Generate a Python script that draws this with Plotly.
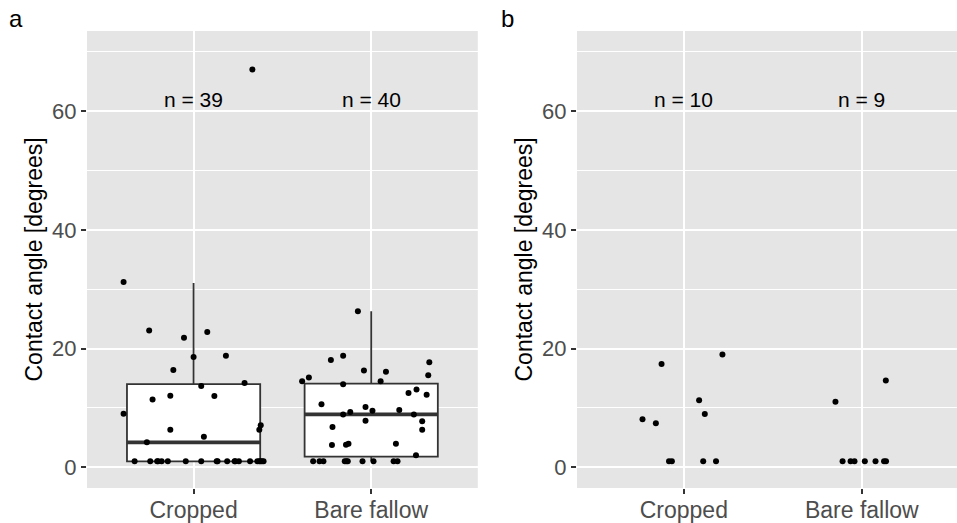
import plotly.graph_objects as go

categories = ["Cropped", "Bare fallow"]

# Panel a: jittered points (x = category index + jitter)
a_crop_x = [-0.394, -0.25, -0.054, 0.077, 0.0, 0.182, -0.114, 0.287, 0.043, -0.231,
            -0.131, 0.117, -0.394, -0.131, 0.058, 0.378, 0.370, -0.263, 0.331,
            -0.332, -0.244, -0.205, -0.180, -0.145, -0.044, 0.043, 0.135, 0.189, 0.231,
            0.255, 0.318, 0.359, 0.377, 0.394, -0.20, 0.13, 0.235, 0.37, 0.385]
a_crop_y = [31.2, 23.05, 21.8, 22.8, 18.56, 18.8, 16.4, 14.2, 13.7, 11.4,
            12.05, 12.0, 9.0, 6.33, 5.15, 7.06, 6.33, 4.2, 67.0,
            1, 1, 1, 1, 1, 1, 1, 1, 1, 1,
            1, 1, 1, 1, 1, 1, 1, 1, 1, 1]

a_bare_dx = [-0.075, -0.227, -0.158, 0.327, -0.041, 0.083, 0.321, -0.389, -0.351, -0.158,
             0.053, 0.21, 0.255, 0.312, -0.28, -0.158, -0.118, -0.032, 0.007, 0.158,
             0.24, -0.032, 0.287, 0.287, -0.218, -0.221, -0.142, -0.128, 0.139, 0.252,
             -0.327, -0.291, -0.269, -0.149, -0.132, -0.049, 0.013, 0.126, 0.148, -0.14]
a_bare_y = [26.3, 18.05, 18.8, 17.7, 16.3, 16.1, 15.5, 14.5, 15.1, 13.97,
            14.5, 12.5, 13.1, 12.2, 10.6, 8.9, 9.3, 10.15, 9.5, 9.64,
            8.9, 7.85, 7.74, 6.33, 6.78, 3.75, 3.8, 3.97, 3.97, 2.02,
            1, 1, 1, 1, 1, 1, 1, 1, 1, 1]

# Panel a box statistics
box_q1 = [1.0, 1.78]
box_median = [4.2, 8.92]
box_q3 = [14.0, 14.07]
box_low = [1.0, 1.0]
box_high = [31.06, 26.3]

# Panel b: jittered points
b_crop_dx = [0.217, -0.125, 0.086, 0.118, -0.232, -0.157, -0.083, -0.067, 0.109, 0.181]
b_crop_y = [19.0, 17.4, 11.3, 8.97, 8.1, 7.4, 1, 1, 1, 1]
b_bare_dx = [0.135, -0.148, -0.108, -0.063, -0.041, 0.017, 0.077, 0.125, 0.136]
b_bare_y = [14.6, 11.04, 1, 1, 1, 1, 1, 1, 1]

n_a = ["n = 39", "n = 40"]
n_b = ["n = 10", "n = 9"]
n_label_y = 62

ytick_vals = [0, 20, 40, 60]

W, H = 957, 523
ML, MR, MT, MB = 87, 0, 31, 35
PW = W - ML - MR
PH = H - MT - MB

def px_x(p):
    return (p - ML) / PW

def px_y(p):
    return 1 - (p - MT) / PH

BOXW = 0.75
DARK = "#333333"

fig = go.Figure()

fig.add_trace(go.Box(
    x=[0, 1], q1=box_q1, median=box_median, q3=box_q3,
    lowerfence=box_low, upperfence=box_high,
    width=BOXW, whiskerwidth=0, boxpoints=False,
    fillcolor="white", line=dict(color=DARK, width=1.8),
    xaxis="x", yaxis="y", showlegend=False, hoverinfo="skip"))

# thicker median lines
for i, m in enumerate(box_median):
    fig.add_trace(go.Scatter(
        x=[i - BOXW / 2, i + BOXW / 2], y=[m, m], mode="lines",
        line=dict(color=DARK, width=3.8), xaxis="x", yaxis="y",
        showlegend=False, hoverinfo="skip"))

mk = dict(color="black", size=6)
fig.add_trace(go.Scatter(x=a_crop_x, y=a_crop_y, mode="markers", marker=mk,
                         xaxis="x", yaxis="y", showlegend=False))
fig.add_trace(go.Scatter(x=[1 + d for d in a_bare_dx], y=a_bare_y, mode="markers", marker=mk,
                         xaxis="x", yaxis="y", showlegend=False))
fig.add_trace(go.Scatter(x=[0 + d for d in b_crop_dx], y=b_crop_y, mode="markers", marker=mk,
                         xaxis="x2", yaxis="y2", showlegend=False))
fig.add_trace(go.Scatter(x=[1 + d for d in b_bare_dx], y=b_bare_y, mode="markers", marker=mk,
                         xaxis="x2", yaxis="y2", showlegend=False))

# n labels
for i, t in enumerate(n_a):
    fig.add_annotation(x=i, y=n_label_y, xref="x", yref="y", text=t, showarrow=False,
                       font=dict(size=21, color="black"), xanchor="center", yanchor="middle")
for i, t in enumerate(n_b):
    fig.add_annotation(x=i, y=n_label_y, xref="x2", yref="y2", text=t, showarrow=False,
                       font=dict(size=21, color="black"), xanchor="center", yanchor="middle")

# y titles
for xp in [33, 523]:
    fig.add_annotation(x=px_x(xp), y=0.5, xref="paper", yref="paper",
                       text="Contact angle [degrees]", textangle=-90, showarrow=False,
                       font=dict(size=23, color="black"), xanchor="center", yanchor="middle")

# panel tags
for t, xp in [("a", 16), ("b", 507)]:
    fig.add_annotation(x=px_x(xp), y=px_y(19), xref="paper", yref="paper",
                       text=t, showarrow=False, font=dict(size=24, color="black"),
                       xanchor="center", yanchor="middle")

xa_common = dict(
    tickvals=[0, 1], ticktext=categories, showgrid=True, gridcolor="white", gridwidth=2,
    ticks="outside", ticklen=5, tickwidth=1.5, tickcolor=DARK,
    tickfont=dict(size=23, color="#4D4D4D"), zeroline=False, showline=False,
    automargin=False, ticklabelstandoff=-4,
)
ya_common = dict(
    range=[-3.5, 73.5], tickvals=ytick_vals, showgrid=True, gridcolor="white", gridwidth=2,
    minor=dict(tickvals=[10, 30, 50, 70], showgrid=True, gridcolor="white", gridwidth=1.1, ticks=""),
    ticks="outside", ticklen=5, tickwidth=1.5, tickcolor=DARK,
    tickfont=dict(size=22, color="#4D4D4D"), zeroline=False, showline=False,
    automargin=False,
)

dom_a = [0, px_x(477.8)]
dom_b = [px_x(577), 1]
range_b_right = -0.6 + (W - 577) / 178.0

fig.update_layout(
    width=W, height=H,
    margin=dict(l=ML, r=MR, t=MT, b=MB, autoexpand=False),
    paper_bgcolor="white", plot_bgcolor="#E5E5E5",
    font=dict(family="Liberation Sans, Arial, sans-serif"),
    xaxis=dict(domain=dom_a, range=[-0.6, 1.6], anchor="y", **xa_common),
    yaxis=dict(anchor="x", **ya_common),
    xaxis2=dict(domain=dom_b, range=[-0.6, range_b_right], anchor="y2", **xa_common),
    yaxis2=dict(anchor="x2", **ya_common),
    showlegend=False,
)

fig.write_html(
    "out.html",
    config={"displayModeBar": False},
    post_script="document.body.style.margin='0px';document.body.style.overflow='hidden';",
)
